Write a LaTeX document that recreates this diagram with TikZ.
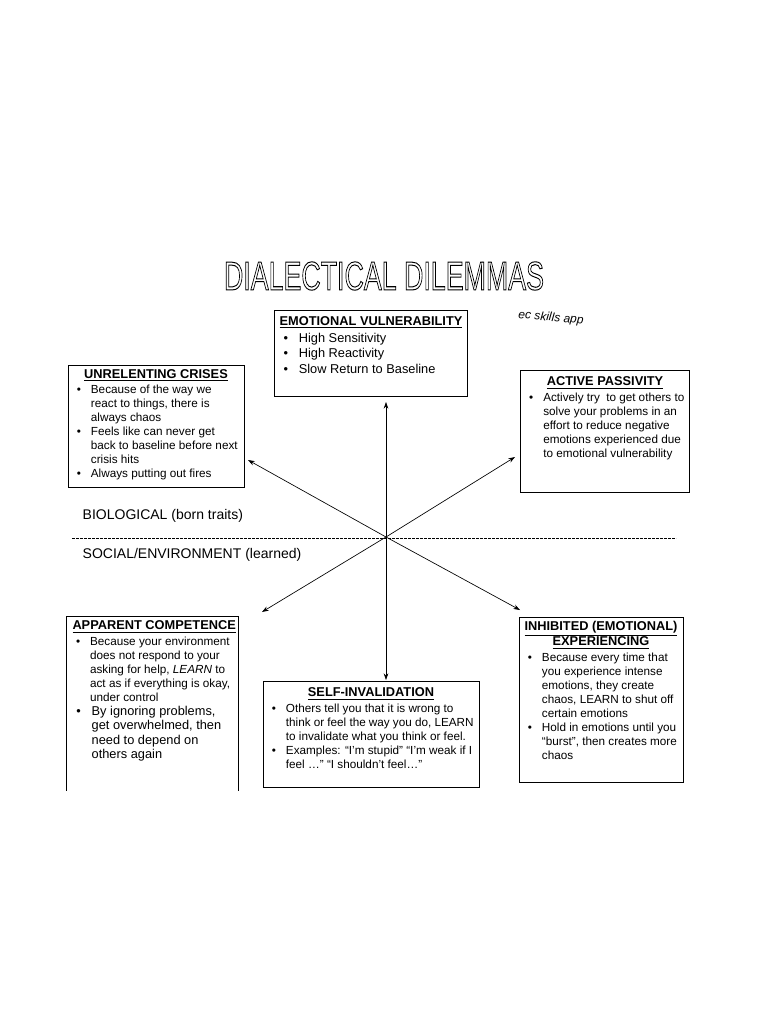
\documentclass[tikz,border=0pt]{standalone}
\usepackage{fontspec}
\setmainfont{Liberation Sans}
\usepackage{graphicx}
\usetikzlibrary{arrows.meta}
\newcommand{\bu}[1]{{\hangindent=1.5em\hangafter=1\noindent\makebox[1.5em][l]{\hspace{0.3em}\textbullet}#1\par}}
\newcommand{\hd}[1]{{\centering\fontsize{9.6}{11.5}\selectfont\bfseries\underline{#1}\par}\vspace{1pt}}
\tikzset{box/.style={draw,line width=0.6pt,inner xsep=4pt,inner ysep=3pt,font=\fontsize{8.8}{10.5}\selectfont},
 arr/.style={-{Stealth[length=5pt,width=3.5pt]},line width=0.5pt}}
\begin{document}
\begin{tikzpicture}[x=0.75pt,y=-0.75pt]
\useasboundingbox (0,0) rectangle (768,1024);
\fill[white] (0,0) rectangle (768,1024);
\node (title) at (384,276) {\resizebox{240pt}{21pt}{\special{pdf:literal direct 1 Tr 0.25 w}DIALECTICAL DILEMMAS\special{pdf:literal direct 0 Tr}}};
\node[font=\itshape\fontsize{9}{10}\selectfont,rotate=-5] (note) at (551,318) {ec skills app};
\node[box] (ev) at (371,353.5) {\parbox[c][59pt][t]{137pt}{\raggedright\vspace{2pt}\hd{EMOTIONAL VULNERABILITY}\fontsize{9.6}{11.5}\selectfont
 \bu{High Sensitivity}\bu{High Reactivity}\bu{Slow Return to Baseline}}};
\node[box] (uc) at (156,426.5) {\parbox[c][86pt][t]{124pt}{\raggedright\hd{UNRELENTING CRISES}
 \bu{Because of the way we react to things, there is always chaos}\bu{Feels like can never get back to baseline before next crisis hits}\bu{Always putting out fires}}};
\node[box] (ap) at (605,431.5) {\parbox[c][86pt][t]{119pt}{\raggedright\vspace{2pt}\hd{ACTIVE PASSIVITY}
 \bu{Actively try\ \ to get others to solve your problems in an effort to reduce negative emotions experienced due to emotional vulnerability}}};
\node[box,draw=none] (ac) at (152.5,703.5) {\parbox[c][124pt][t]{120pt}{\raggedright\hd{APPARENT COMPETENCE}
 \bu{Because your environment does not respond to your asking for help, \textit{LEARN} to act as if everything is okay, under control}{\fontsize{9.6}{10.8}\selectfont\bu{By ignoring problems, get overwhelmed, then need to depend on others again}}}};
\draw[line width=0.6pt] (ac.south west) -- (ac.north west) -- (ac.north east) -- (ac.south east);
\node[box] (si) at (371,734.5) {\parbox[c][74pt][t]{154pt}{\raggedright\vspace{2pt}\hd{SELF-INVALIDATION}
 \bu{Others tell you that it is wrong to think or feel the way you do, LEARN to invalidate what you think or feel.}\bu{Examples: ``I'm stupid'' ``I'm weak if I feel \dots'' ``I shouldn't feel\dots''}}};
\node[box] (ie) at (601,700) {\parbox[c][118pt][t]{115pt}{\raggedright\hd{INHIBITED (EMOTIONAL)}\vspace{-1pt}\hd{EXPERIENCING}
 \bu{Because every time that you experience intense emotions, they create chaos, LEARN to shut off certain emotions}\bu{Hold in emotions until you ``burst'', then creates more chaos}}};
\coordinate (c) at (386,537);
\coordinate (t1) at (386,402); \coordinate (t2) at (248,460); \coordinate (t3) at (515,457);
\coordinate (t4) at (386,680); \coordinate (t5) at (262,612); \coordinate (t6) at (520,610);
\foreach \t in {t1,t2,t3,t4,t5,t6} \draw[arr] (c) -- (\t);
\draw[dashed,dash pattern=on 2pt off 1pt,line width=0.5pt] (72,538) -- (676,538);
\node[anchor=west,font=\fontsize{10.5}{12}\selectfont] (bio) at (78,516) {BIOLOGICAL (born traits)};
\node[anchor=west,font=\fontsize{10.5}{12}\selectfont] (soc) at (78,555) {SOCIAL/ENVIRONMENT (learned)};
\end{tikzpicture}
\end{document}
